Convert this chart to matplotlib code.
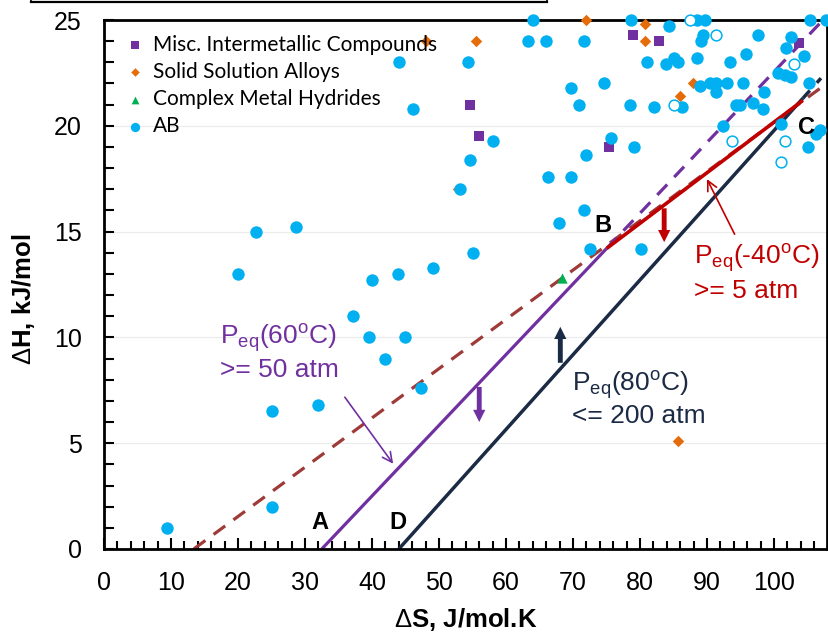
import matplotlib
matplotlib.use("Agg")
import matplotlib.pyplot as plt
from matplotlib.lines import Line2D
from matplotlib.ticker import MultipleLocator

plt.rcParams['font.family'] = ['Liberation Sans', 'DejaVu Sans']
plt.rcParams['mathtext.fontset'] = 'custom'
plt.rcParams['mathtext.rm'] = 'Liberation Sans'
plt.rcParams['mathtext.it'] = 'Liberation Sans:italic'
plt.rcParams['mathtext.bf'] = 'Liberation Sans:bold'

# ---------------- data ----------------
ab_x = [9.4, 25.1, 25.0, 32.0, 47.3, 22.7, 28.6, 20.0, 40.0, 43.9, 49.1, 37.2, 39.6, 44.9,
        41.9, 55.0, 58.0, 54.6, 53.1, 72.0, 66.3, 69.7, 71.6, 67.9, 72.6, 80.2, 64.0, 63.3,
        65.9, 71.6, 44.1, 54.3, 69.7, 70.9, 46.1, 74.6, 78.7, 84.3, 88.5, 89.7, 105.4, 107.8,
        89.4, 89.1, 97.6, 102.6, 101.8, 104.5, 95.8, 93.4, 88.5, 85.0, 85.6, 83.9, 81.1, 89.0,
        90.5, 91.3, 91.3, 93.0, 95.4, 100.6, 101.6, 102.6, 105.2, 78.5, 82.1, 86.3, 94.3, 94.9,
        96.9, 98.3, 98.5, 92.4, 101.1, 75.6, 106.8, 106.2, 105.0, 79.1]
ab_y = [1.0, 6.5, 2.0, 6.8, 7.6, 15.0, 15.2, 13.0, 12.7, 13.0, 13.3, 11.0, 10.0, 10.0,
        9.0, 14.0, 19.3, 18.4, 17.0, 18.6, 17.6, 17.6, 16.0, 15.4, 14.2, 14.2, 25.0, 24.0,
        24.0, 24.0, 23.0, 23.0, 21.8, 21.0, 20.8, 22.0, 25.0, 24.7, 25.0, 25.0, 25.0, 25.0,
        24.3, 24.0, 24.3, 24.2, 23.7, 23.3, 23.4, 23.0, 23.2, 23.2, 23.0, 22.9, 23.0, 21.9,
        22.0, 22.0, 21.6, 22.0, 22.0, 22.5, 22.4, 22.3, 22.0, 21.0, 20.9, 20.9, 21.0, 21.0,
        21.1, 20.8, 21.6, 20.0, 20.1, 19.4, 19.8, 19.6, 19.0, 19.0]

ab_open_x = [87.4, 91.3, 103.0, 85.1, 93.7, 101.6, 101.0]
ab_open_y = [25.0, 24.3, 22.9, 21.0, 19.3, 19.3, 18.3]

misc_x = [56.0, 54.6, 79.0, 82.9, 103.7, 75.4]
misc_y = [19.5, 21.0, 24.3, 24.0, 23.9, 19.0]

ssa_x = [48.0, 55.5, 72.0, 80.8, 80.8, 87.9, 86.0, 78.5, 52.9, 85.7]
ssa_y = [24.0, 24.0, 25.0, 24.8, 24.0, 22.0, 21.4, 21.0, 17.0, 5.1]

cmh_x = [68.3]
cmh_y = [12.8]

# target lines
p60_x = [32.5, 75.0];      p60_y = [0.0, 14.2]
p60_ext_x = [75.0, 107.6]; p60_ext_y = [14.2, 25.1]
m40_x = [13.4, 107.0];     m40_y = [0.0, 21.8]
m40_seg_x = [75.0, 104.3]; m40_seg_y = [14.2, 21.2]
p80_x = [44.0, 104.3];     p80_y = [0.0, 21.3]
p80_ext_x = [104.3, 107.0]; p80_ext_y = [21.3, 22.25]

legend_labels = ["Misc. Intermetallic Compounds", "Solid Solution Alloys",
                 "Complex Metal Hydrides", "AB"]

# ---------------- colors ----------------
c_ab = "#00B0F0"
c_misc = "#7030A0"
c_ssa = "#E46C0A"
c_cmh = "#00B050"
c_purple = "#7030A0"
c_red = "#C00000"
c_navy = "#1B2A45"
c_brown = "#9E3A38"

fig = plt.figure(figsize=(8.29, 6.32), dpi=100)
ax = fig.add_axes([104/829, 83/632, 723/829, 529/632])

ax.set_xlim(0, 107.9)
ax.set_ylim(0, 25)

# gridlines
ax.yaxis.grid(True, which='major', color='#EBEBEB', linewidth=0.8)
ax.set_axisbelow(True)

# lines
ax.plot(m40_x, m40_y, color=c_brown, lw=2.3, dashes=(4.5, 3.2), zorder=2)
ax.plot(p60_ext_x, p60_ext_y, color=c_purple, lw=2.3, dashes=(4.5, 3.2), zorder=2)
ax.plot(p60_x, p60_y, color=c_purple, lw=2.3, zorder=3, solid_capstyle='butt')
ax.plot(p80_x, p80_y, color=c_navy, lw=2.5, zorder=3, solid_capstyle='butt')
ax.plot(p80_ext_x, p80_ext_y, color=c_navy, lw=2.5, dashes=(3, 3), zorder=3)
ax.plot(m40_seg_x, m40_seg_y, color=c_red, lw=2.6, zorder=4, solid_capstyle='butt')

# scatter
ax.scatter(misc_x, misc_y, marker='s', s=48, color=c_misc, linewidths=0, zorder=5,
           clip_on=False, label=legend_labels[0])
ax.scatter(ssa_x, ssa_y, marker='D', s=34, color=c_ssa, linewidths=0, zorder=5,
           clip_on=False, label=legend_labels[1])
ax.scatter(cmh_x, cmh_y, marker='^', s=55, color=c_cmh, linewidths=0, zorder=5,
           clip_on=False, label=legend_labels[2])
ax.scatter(ab_x, ab_y, marker='o', s=80, color=c_ab, linewidths=0, zorder=6,
           clip_on=False, label=legend_labels[3])
ax.scatter(ab_open_x, ab_open_y, marker='o', s=60, facecolors='white', edgecolors=c_ab,
           linewidths=1.1, zorder=6, clip_on=False)

# spines and ticks
for sp in ax.spines.values():
    sp.set_linewidth(2.0)
    sp.set_color('black')
    sp.set_zorder(4.5)
ax.xaxis.set_major_locator(MultipleLocator(10))
ax.xaxis.set_minor_locator(MultipleLocator(2))
ax.yaxis.set_major_locator(MultipleLocator(5))
ax.yaxis.set_minor_locator(MultipleLocator(1))
ax.tick_params(axis='both', which='both', direction='in', top=False, right=False,
               width=1.5, color='black')
ax.tick_params(axis='x', which='major', length=8, labelsize=18, pad=16)
ax.tick_params(axis='x', which='minor', length=6)
ax.tick_params(axis='y', which='major', length=7, labelsize=18, pad=16)
ax.tick_params(axis='y', which='minor', length=7)

ax.set_xlabel(r"$\Delta$S, J/mol.K", fontsize=18.5, fontweight='bold')
ax.set_ylabel(r"$\Delta$H, kJ/mol", fontsize=18.5, fontweight='bold')
ax.xaxis.set_label_coords(0.5, -0.108)
ax.yaxis.set_label_coords(-0.092, 0.472)

# legend
leg = ax.legend(loc='upper left', bbox_to_anchor=(0.0, 1.0), frameon=False,
                prop={'family': 'Lato', 'size': 15}, handletextpad=0.05,
                borderaxespad=0.3, labelspacing=0.35, markerscale=0.75,
                handlelength=1.6, scatterpoints=1)

# annotations text
tkw = dict(fontsize=19, ha='left', va='baseline')
ax.text(17.3, 9.64, r"P$_{\mathrm{eq}}$(60$^{\mathrm{o}}$C)", color=c_purple, **tkw)
ax.text(17.3, 8.13, ">= 50 atm", color=c_purple, **tkw)
ax.text(69.8, 7.42, r"P$_{\mathrm{eq}}$(80$^{\mathrm{o}}$C)", color=c_navy, **tkw)
ax.text(69.8, 5.95, "<= 200 atm", color=c_navy, **tkw)
ax.text(88.0, 13.42, r"P$_{\mathrm{eq}}$(-40$^{\mathrm{o}}$C)", color=c_red, **tkw)
ax.text(88.0, 11.86, ">= 5 atm", color=c_red, **tkw)

lkw = dict(fontsize=17, fontweight='bold', ha='center', va='center', color='black', zorder=7)
ax.text(32.2, 1.23, "A", **lkw)
ax.text(43.9, 1.23, "D", **lkw)
ax.text(74.5, 15.3, "B", **lkw)
ax.text(104.9, 19.9, "C", **lkw)

# thin arrows
ax.annotate("", xy=(43.4, 3.92), xytext=(35.7, 7.28),
            arrowprops=dict(arrowstyle='->,head_length=0.7,head_width=0.35', color=c_purple, lw=1.2))
ax.annotate("", xy=(89.8, 17.6), xytext=(94.3, 14.76),
            arrowprops=dict(arrowstyle='->,head_length=0.7,head_width=0.35', color=c_red, lw=1.2))

# thick arrows
def thick(x, y0, y1, col):
    ax.annotate("", xy=(x, y1), xytext=(x, y0),
                arrowprops=dict(arrowstyle='simple,head_length=0.55,head_width=0.55,tail_width=0.22',
                                color=col, lw=0, shrinkA=0, shrinkB=0, mutation_scale=16),
                zorder=7)
thick(56.0, 7.66, 6.0, c_purple)
thick(83.6, 16.1, 14.5, c_red)
thick(68.1, 8.8, 10.5, c_navy)

# remnant box edge at top of figure
fig.add_artist(Line2D([31/829, 547/829], [1 - 2/632, 1 - 2/632], color='black', lw=1.6,
                      transform=fig.transFigure))
fig.add_artist(Line2D([31/829, 31/829], [1 - 2/632, 1.0], color='black', lw=1.2,
                      transform=fig.transFigure))
fig.add_artist(Line2D([547/829, 547/829], [1 - 2/632, 1.0], color='black', lw=1.2,
                      transform=fig.transFigure))

fig.savefig("out.png", dpi=100)
